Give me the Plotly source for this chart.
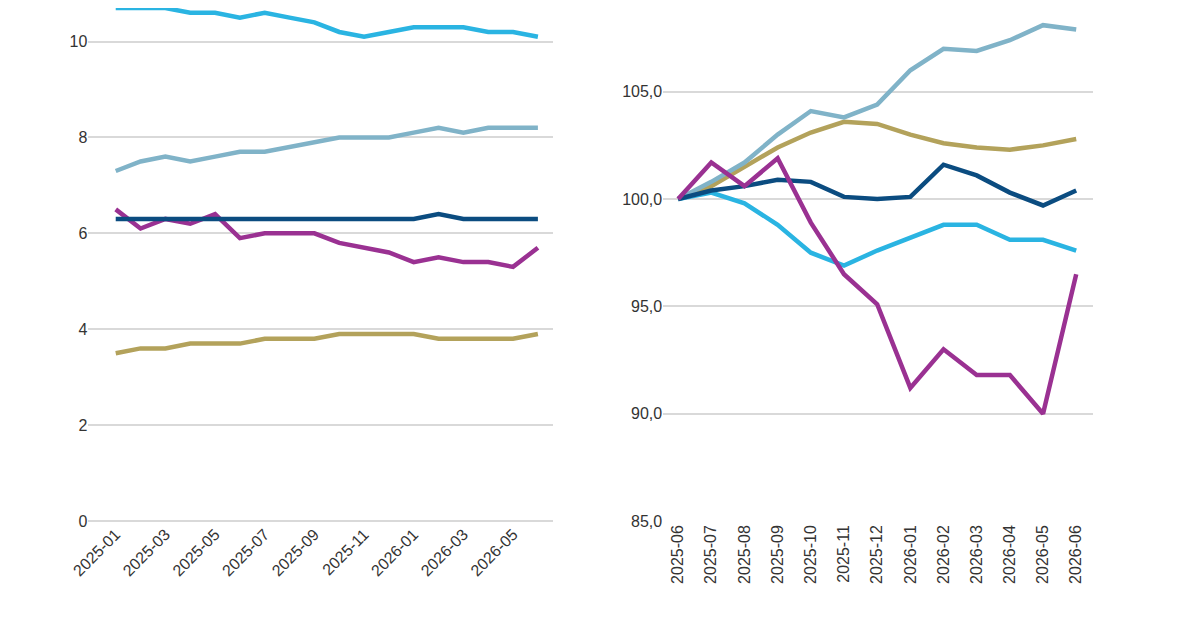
import plotly.graph_objects as go

left_x = ["2025-01","2025-02","2025-03","2025-04","2025-05","2025-06","2025-07","2025-08","2025-09",
          "2025-10","2025-11","2025-12","2026-01","2026-02","2026-03","2026-04","2026-05","2026-06"]
left_lightblue = [10.7,10.7,10.7,10.6,10.6,10.5,10.6,10.5,10.4,10.2,10.1,10.2,10.3,10.3,10.3,10.2,10.2,10.1]
left_grayblue = [7.3,7.5,7.6,7.5,7.6,7.7,7.7,7.8,7.9,8.0,8.0,8.0,8.1,8.2,8.1,8.2,8.2,8.2]
left_navy = [6.3,6.3,6.3,6.3,6.3,6.3,6.3,6.3,6.3,6.3,6.3,6.3,6.3,6.4,6.3,6.3,6.3,6.3]
left_purple = [6.5,6.1,6.3,6.2,6.4,5.9,6.0,6.0,6.0,5.8,5.7,5.6,5.4,5.5,5.4,5.4,5.3,5.7]
left_gold = [3.5,3.6,3.6,3.7,3.7,3.7,3.8,3.8,3.8,3.9,3.9,3.9,3.9,3.8,3.8,3.8,3.8,3.9]
left_ticks = ["2025-01","2025-03","2025-05","2025-07","2025-09","2025-11","2026-01","2026-03","2026-05"]

right_x = ["2025-06","2025-07","2025-08","2025-09","2025-10","2025-11","2025-12",
           "2026-01","2026-02","2026-03","2026-04","2026-05","2026-06"]
right_grayblue = [100,100.8,101.7,103.0,104.1,103.8,104.4,106.0,107.0,106.9,107.4,108.1,107.9]
right_gold = [100,100.6,101.5,102.4,103.1,103.6,103.5,103.0,102.6,102.4,102.3,102.5,102.8]
right_navy = [100,100.4,100.6,100.9,100.8,100.1,100.0,100.1,101.6,101.1,100.3,99.7,100.4]
right_lightblue = [100,100.3,99.8,98.8,97.5,96.9,97.6,98.2,98.8,98.8,98.1,98.1,97.6]
right_purple = [100,101.7,100.6,101.9,98.9,96.5,95.1,91.2,93.0,91.8,91.8,90.0,96.5]

C = {"lb": "#2ab4e2", "gb": "#80b3c8", "nv": "#0b4c80", "pu": "#9a3192", "go": "#b3a25b"}

fig = go.Figure()
for y, c in [(left_gold, "go"), (left_purple, "pu"), (left_navy, "nv"), (left_grayblue, "gb"), (left_lightblue, "lb")]:
    fig.add_trace(go.Scatter(x=left_x, y=y, mode="lines", line=dict(color=C[c], width=4.5),
                             xaxis="x", yaxis="y", showlegend=False))
for y, c in [(right_gold, "go"), (right_grayblue, "gb"), (right_lightblue, "lb"), (right_navy, "nv"), (right_purple, "pu")]:
    fig.add_trace(go.Scatter(x=right_x, y=y, mode="lines", line=dict(color=C[c], width=4.5),
                             xaxis="x2", yaxis="y2", showlegend=False))

font = dict(family="Liberation Sans, Arial", size=16, color="#333")
grid = "#d9d9d9"
fig.update_layout(
    width=1200, height=630, margin=dict(l=0, r=0, t=0, b=117),
    plot_bgcolor="white", paper_bgcolor="white", separators=", ", font=font,
    xaxis=dict(domain=[0.067, 0.454], type="category", range=[-1.1, 17.6], tickvals=left_ticks,
               tickangle=-45, showgrid=False, showline=False, ticks="", automargin=False),
    yaxis=dict(range=[0, 10.7], tickvals=[0, 2, 4, 6, 8, 10], gridcolor=grid, gridwidth=1.5,
               zeroline=True, zerolinecolor=grid, zerolinewidth=1.5, ticks="", ticksuffix="  ",
               automargin=False),
    xaxis2=dict(domain=[0.546, 0.904], type="category", range=[-0.45, 12.5], tickvals=right_x,
                tickangle=-90, showgrid=False, showline=False, ticks="", automargin=False),
    yaxis2=dict(anchor="x2", range=[85, 108.9], tickvals=[85, 90, 95, 100, 105], tickformat=".1f",
                gridcolor=grid, gridwidth=1.5, zeroline=False, ticks="", ticksuffix="  ",
                automargin=False),
)
fig.write_html("out.html")
